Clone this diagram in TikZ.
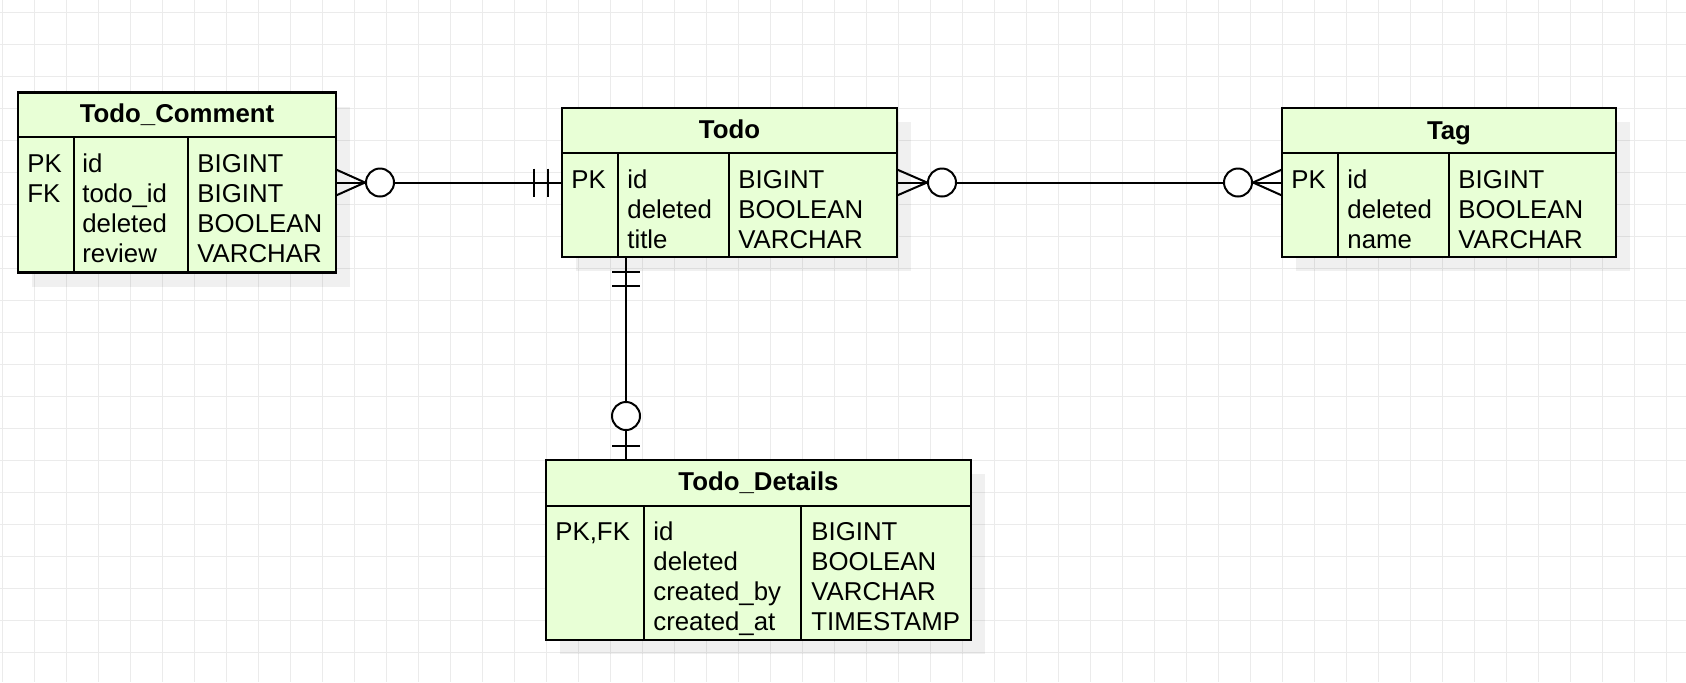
\documentclass[tikz,border=0pt]{standalone}
\usepackage{fontspec}
\setmainfont{Liberation Sans}
\usetikzlibrary{calc,shadows}

\definecolor{tablefill}{RGB}{232,255,214}
\definecolor{gridgray}{RGB}{235,235,235}

\begin{document}
\begin{tikzpicture}[
  x=0.5pt, y=-0.5pt,
  tbl/.style={rectangle, draw, line width=1.1pt, fill=tablefill, inner sep=0pt, outer sep=0pt,
    drop shadow={shadow xshift=7pt, shadow yshift=-7pt, fill=black, opacity=0.06}},
  title/.style={font=\fontsize{12.9}{15}\selectfont\bfseries, inner sep=0pt, anchor=base},
  col/.style={font=\fontsize{12.9}{15}\selectfont, align=left, inner sep=0pt, anchor=base west},
  sep/.style={line width=1.1pt},
  conn/.style={line width=1pt},
  gridline/.style={gridgray, line width=0.5pt}
]
\fill[white] (0,0) rectangle (1686,682);
\useasboundingbox (0,0) rectangle (1686,682);

% Background grid
\foreach \gx in {0,...,52} \draw[gridline] (2.3+32*\gx,0) -- (2.3+32*\gx,682);
\foreach \gy in {0,...,20} \draw[gridline] (0,12+32*\gy) -- (1686,12+32*\gy);

% Tables
\node[tbl, minimum width=159pt, minimum height=90pt] (comment) at (177,182.5) {};
\node[tbl, minimum width=167.5pt, minimum height=74.5pt] (todo) at (729.5,182.5) {};
\node[tbl, minimum width=167pt, minimum height=74.5pt] (tag) at (1449,182.5) {};
\node[tbl, minimum width=212.5pt, minimum height=90pt] (details) at (758.5,550) {};

% Header rules and column rules
\draw[sep] (18,137) -- (336,137) (74,137) -- (74,272.5) (188,137) -- (188,272.5);
\draw[sep] (562,153) -- (897,153) (618,153) -- (618,257) (729,153) -- (729,257);
\draw[sep] (1282,153) -- (1616,153) (1338,153) -- (1338,257) (1449,153) -- (1449,257);
\draw[sep] (546,506) -- (971,506) (644,506) -- (644,640) (801,506) -- (801,640);

% Titles
\node[title] (commenttitle) at (177,122) {Todo\_Comment};
\node[title] (todotitle) at (729.5,138) {Todo};
\node[title] (tagtitle) at (1449,139) {Tag};
\node[title] (detailstitle) at (758.5,490) {Todo\_Details};

% Columns (anchored at the baseline of their last line)
\node[col] (commentkeys) at (27,202) {PK\\FK};
\node[col] (commentnames) at (82,262) {id\\todo\_id\\deleted\\review};
\node[col] (commenttypes) at (197,262) {BIGINT\\BIGINT\\BOOLEAN\\VARCHAR};

\node[col] (todokeys) at (571,188) {PK};
\node[col] (todonames) at (627,248) {id\\deleted\\title};
\node[col] (todotypes) at (738,248) {BIGINT\\BOOLEAN\\VARCHAR};

\node[col] (tagkeys) at (1291,188) {PK};
\node[col] (tagnames) at (1347,248) {id\\deleted\\name};
\node[col] (tagtypes) at (1458,248) {BIGINT\\BOOLEAN\\VARCHAR};

\node[col] (detailskeys) at (555,540) {PK,FK};
\node[col] (detailsnames) at (653,630) {id\\deleted\\created\_by\\created\_at};
\node[col] (detailstypes) at (811,630) {BIGINT\\BOOLEAN\\VARCHAR\\TIMESTAMP};

% Todo_Comment -- Todo
\draw[conn] (comment.east) -- (todo.west);
\draw[conn] ($(comment.east)+(0,-13)$) -- ($(comment.east)+(29,0)$) -- ($(comment.east)+(0,13)$);
\draw[conn, fill=white] ($(comment.east)+(44,0)$) circle (7pt);
\draw[conn] ($(todo.west)+(-14,-14)$) -- ++(0,28);
\draw[conn] ($(todo.west)+(-28,-14)$) -- ++(0,28);

% Todo -- Tag
\draw[conn] (todo.east) -- (tag.west);
\draw[conn] ($(todo.east)+(0,-13)$) -- ($(todo.east)+(30,0)$) -- ($(todo.east)+(0,13)$);
\draw[conn, fill=white] ($(todo.east)+(45,0)$) circle (7pt);
\draw[conn] ($(tag.west)+(0,-13)$) -- ($(tag.west)+(-29,0)$) -- ($(tag.west)+(0,13)$);
\draw[conn, fill=white] ($(tag.west)+(-44,0)$) circle (7pt);

% Todo -- Todo_Details
\coordinate (link) at (626,0);
\draw[conn] (todo.south -| link) -- (details.north -| link);
\draw[conn] ($(todo.south -| link)+(-14,15)$) -- ++(28,0);
\draw[conn] ($(todo.south -| link)+(-14,29)$) -- ++(28,0);
\draw[conn, fill=white] ($(details.north -| link)+(0,-44)$) circle (7pt);
\draw[conn] ($(details.north -| link)+(-14,-14)$) -- ++(28,0);
\end{tikzpicture}
\end{document}
